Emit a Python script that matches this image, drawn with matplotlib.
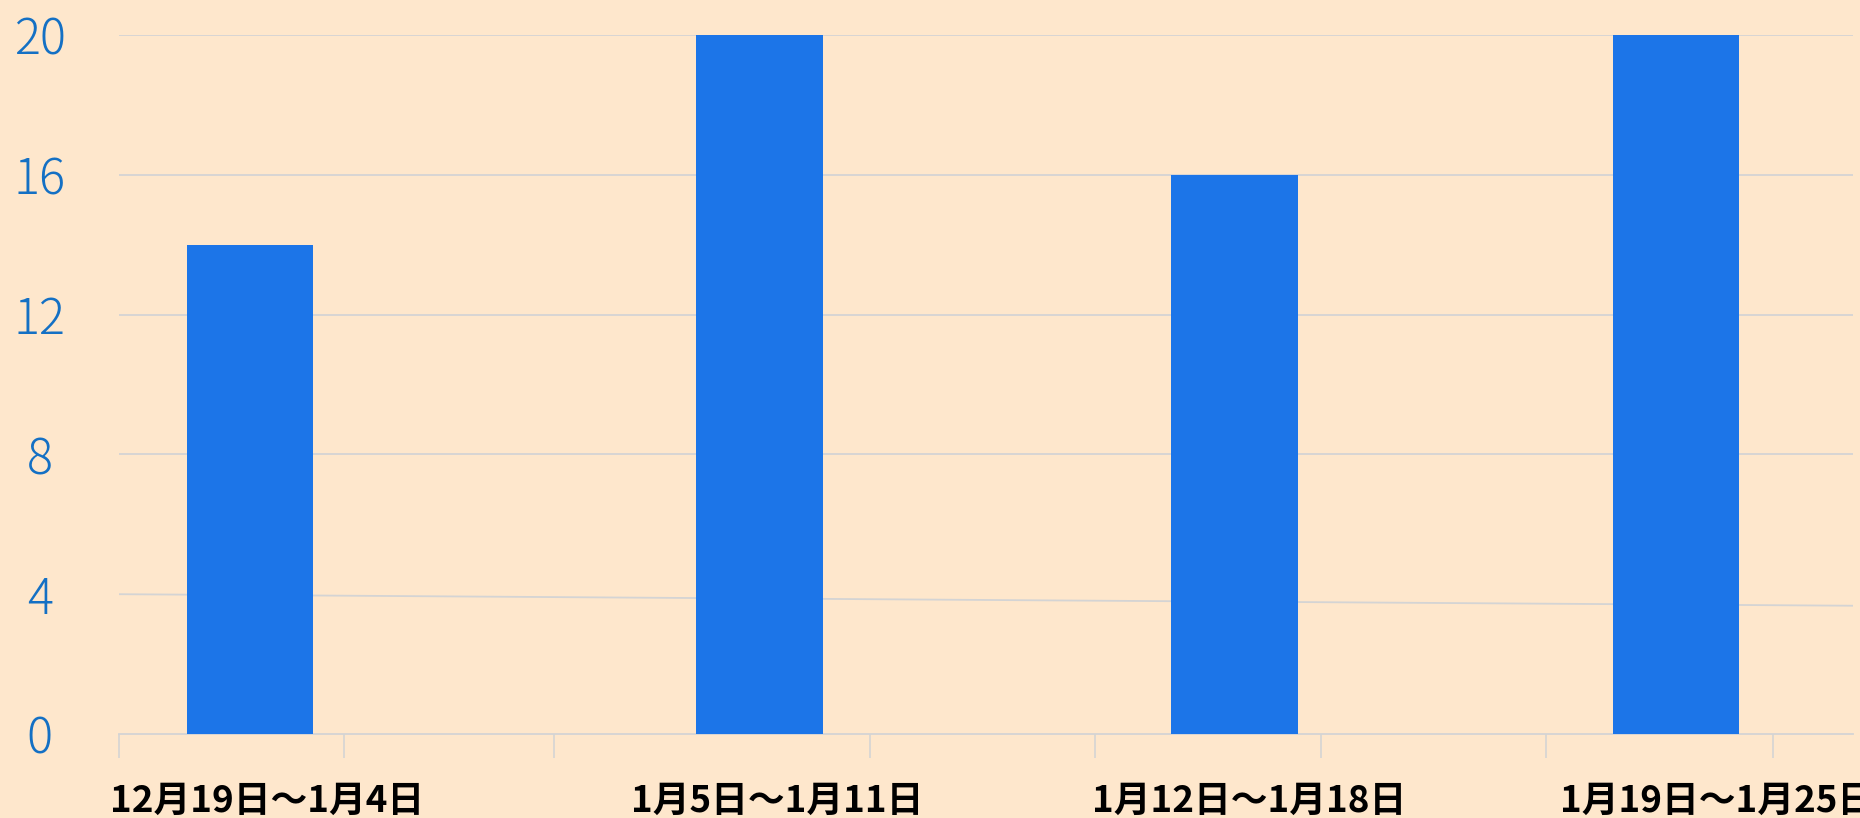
import matplotlib
matplotlib.use("Agg")
import matplotlib.pyplot as plt
from matplotlib.transforms import blended_transform_factory

categories = ["12月19日～1月4日", "1月5日～1月11日", "1月12日～1月18日", "1月19日～1月25日"]
values = [14, 20, 16, 20.1]
y_ticks = [0, 4, 8, 12, 16, 20]

# layout (slot positions of bars, labels and tick marks in category units)
bar_pos = [-0.015, 1.062, 2.066, 3.0]
label_pos = [0.021, 1.10, 2.097, 3.086]
tick_pos = [-0.292, 0.183, 0.627, 1.296, 1.771, 2.249, 2.726, 3.204]

BG = "#FEE7CC"
BAR = "#1C75E8"
GRID = "#D4D4D4"
YCOL = "#1470C4"

plt.rcParams["font.family"] = ["Noto Sans CJK JP", "DejaVu Sans"]

fig = plt.figure(figsize=(18.6, 8.18), dpi=100, facecolor=BG)
ax = fig.add_axes([119 / 1860, 1 - 734 / 818, (1853 - 119) / 1860, (734 - 35) / 818])
ax.set_facecolor(BG)

ax.bar(bar_pos, values, width=0.268, color=BAR, zorder=3)

ax.set_xlim(-0.2735, 3.374)
ax.set_ylim(0, 20)

ax.set_yticks(y_ticks)
ax.set_yticklabels([str(v) for v in y_ticks], color=YCOL, fontsize=35, ha="center",
                   fontweight="light")
ax.tick_params(axis="y", length=0, pad=57)

# horizontal grid lines (the one at 4 is slightly tilted in the original)
tr = blended_transform_factory(ax.transAxes, ax.transData)
for v in y_ticks[1:]:
    if v == 4:
        ax.plot([0, 1], [4.0, 3.67], transform=tr, color=GRID, lw=1.3, zorder=1)
    else:
        ax.axhline(v, color=GRID, lw=1.3, zorder=1)

ax.set_xticks(tick_pos, minor=True)
ax.tick_params(axis="x", which="minor", length=17, width=1.2, color=GRID)
ax.set_xticks(label_pos)
ax.set_xticklabels(categories, fontsize=26.5, fontweight="bold", color="black")
ax.tick_params(axis="x", which="major", length=0, pad=35)

for s in ["top", "right", "left"]:
    ax.spines[s].set_visible(False)
ax.spines["bottom"].set_color(GRID)
ax.spines["bottom"].set_linewidth(1.3)

fig.savefig("out.png", dpi=100, facecolor=BG)
